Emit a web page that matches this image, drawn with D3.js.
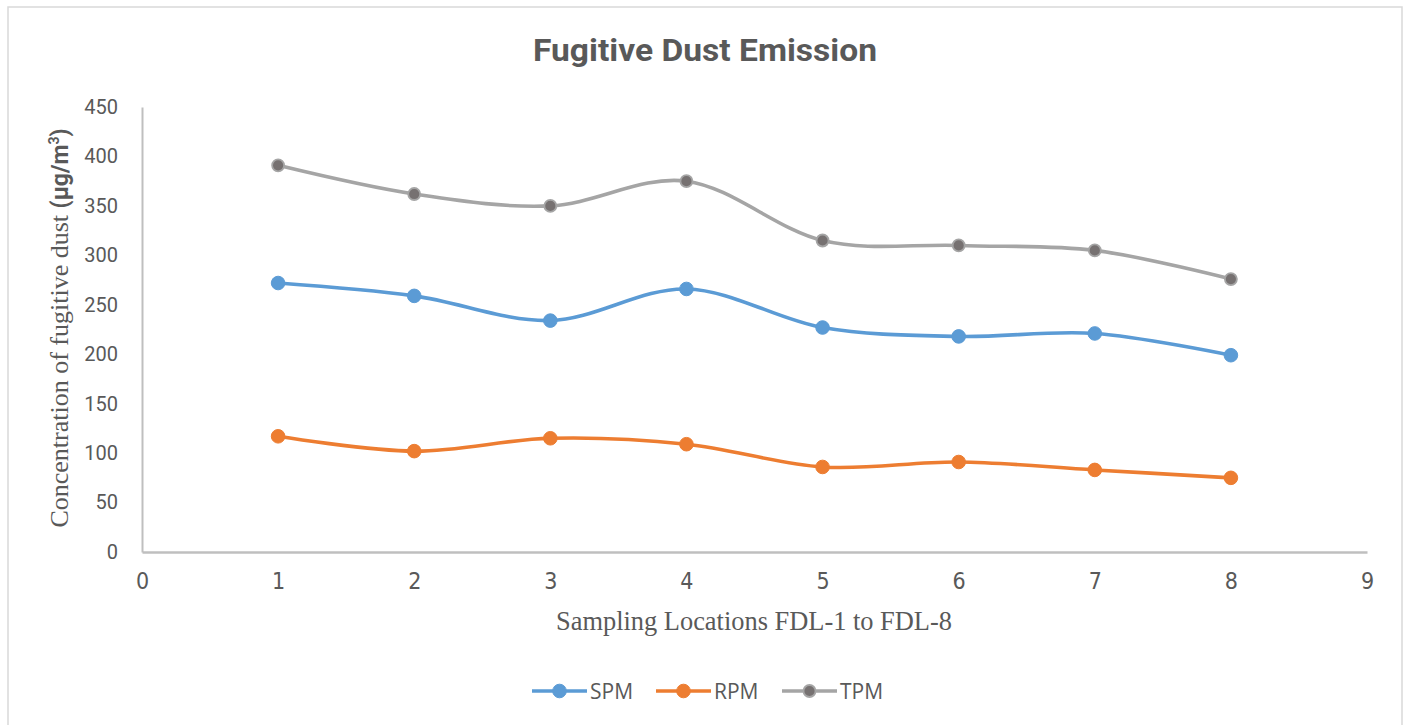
<!DOCTYPE html>
<html>
<head>
<meta charset="utf-8">
<script src="https://cdn.jsdelivr.net/npm/d3@7"></script>
<style>
body { margin: 0; background: #fff; }
</style>
</head>
<body>
<svg width="1406" height="725"></svg>
<script>
// sampling locations FDL-1 .. FDL-8
var locations = [1, 2, 3, 4, 5, 6, 7, 8];
var spm = [272, 259, 234, 266, 227, 218, 221, 199];
var rpm = [117, 102, 115, 109, 86, 91, 83, 75];
var tpm = [391, 362, 350, 375, 315, 310, 305, 276];
var seriesNames = ["SPM", "RPM", "TPM"];
var xTicks = [0, 1, 2, 3, 4, 5, 6, 7, 8, 9];
var yTicks = [0, 50, 100, 150, 200, 250, 300, 350, 400, 450];

var svg = d3.select("svg");
var margin = {top: 107, left: 142};
var width = 1367 - 142;
var height = 552 - 107;

// chart frame
svg.append("rect")
  .attr("x", 8).attr("y", 7)
  .attr("width", 1394).attr("height", 730)
  .attr("fill", "#fff")
  .attr("stroke", "#d9d9d9")
  .attr("stroke-width", 1.5);

var xScale = d3.scaleLinear().domain([0, 9]).range([0, width]);
var yScale = d3.scaleLinear().domain([0, 450]).range([height, 0]);

var g = svg.append("g").attr("transform", "translate(" + margin.left + "," + margin.top + ")");

var yAxis = d3.axisLeft(yScale).tickValues(yTicks).tickSize(0).tickPadding(24);
var xAxis = d3.axisBottom(xScale).tickValues(xTicks).tickSize(0).tickPadding(21);

var yg = g.append("g").call(yAxis);
yg.select(".domain").attr("stroke", "#bfbfbf").attr("stroke-width", 2);
yg.selectAll("text")
  .attr("font-family", "Roboto, sans-serif")
  .attr("font-size", "20px")
  .attr("fill", "#595959");

var xg = g.append("g").attr("transform", "translate(0," + height + ")").call(xAxis);
xg.select(".domain").attr("stroke", "#bfbfbf").attr("stroke-width", 2.5);
xg.selectAll("text")
  .attr("font-family", "'Liberation Sans Narrow', 'DejaVu Sans Condensed', sans-serif")
  .attr("font-size", "23px")
  .attr("fill", "#595959");

var colors = {SPM: "#5b9bd5", RPM: "#ed7d31", TPM: "#a5a5a5"};
var markerFill = {SPM: "#5b9bd5", RPM: "#ed7d31", TPM: "#767171"};
var values = {SPM: spm, RPM: rpm, TPM: tpm};

var line = d3.line()
  .x(function(d) { return xScale(d[0]); })
  .y(function(d) { return yScale(d[1]); })
  .curve(d3.curveCardinal.tension(0));

seriesNames.forEach(function(name) {
  var pts = locations.map(function(x, i) { return [x, values[name][i]]; });
  g.append("path")
    .datum(pts)
    .attr("d", line)
    .attr("fill", "none")
    .attr("stroke", colors[name])
    .attr("stroke-width", 3.6);
  g.selectAll(".m" + name)
    .data(pts)
    .enter()
    .append("circle")
    .attr("cx", function(d) { return xScale(d[0]); })
    .attr("cy", function(d) { return yScale(d[1]); })
    .attr("r", name == "TPM" ? 6 : 6.8)
    .attr("fill", markerFill[name])
    .attr("stroke", colors[name])
    .attr("stroke-width", name == "TPM" ? 1.8 : 1);
});

// title
svg.append("text")
  .attr("x", 705).attr("y", 61)
  .attr("text-anchor", "middle")
  .attr("font-family", "'Liberation Sans Narrow', Roboto, sans-serif")
  .attr("font-weight", "bold")
  .attr("font-size", "32px")
  .attr("fill", "#595959")
  .attr("textLength", 344)
  .attr("lengthAdjust", "spacingAndGlyphs")
  .text("Fugitive Dust Emission");

// x axis title
svg.append("text")
  .attr("x", 754).attr("y", 630)
  .attr("text-anchor", "middle")
  .attr("font-family", "'Liberation Serif', serif")
  .attr("font-size", "27px")
  .attr("fill", "#595959")
  .attr("textLength", 396)
  .attr("lengthAdjust", "spacingAndGlyphs")
  .text("Sampling Locations FDL-1 to FDL-8");

// y axis title
var yt = svg.append("text")
  .attr("transform", "translate(68,328) rotate(-90)")
  .attr("text-anchor", "middle")
  .attr("fill", "#595959");
yt.append("tspan")
  .attr("font-family", "'Liberation Serif', serif")
  .attr("font-size", "26px")
  .text("Concentration of fugitive dust ");
yt.append("tspan")
  .attr("font-family", "Roboto, sans-serif")
  .attr("font-weight", "bold")
  .attr("font-size", "23px")
  .text("(µg/m");
yt.append("tspan")
  .attr("font-family", "Roboto, sans-serif")
  .attr("font-weight", "bold")
  .attr("font-size", "14px")
  .attr("dy", -9)
  .text("3");
yt.append("tspan")
  .attr("font-family", "Roboto, sans-serif")
  .attr("font-weight", "bold")
  .attr("font-size", "23px")
  .attr("dy", 9)
  .text(")");

// legend
var legendX = [532, 656, 782];
var legend = svg.append("g");
seriesNames.forEach(function(name, i) {
  var lx = legendX[i];
  legend.append("line")
    .attr("x1", lx).attr("x2", lx + 55)
    .attr("y1", 691).attr("y2", 691)
    .attr("stroke", colors[name])
    .attr("stroke-width", 3.6);
  legend.append("circle")
    .attr("cx", lx + 27.5).attr("cy", 691)
    .attr("r", name == "TPM" ? 6 : 6.8)
    .attr("fill", markerFill[name])
    .attr("stroke", colors[name])
    .attr("stroke-width", name == "TPM" ? 1.8 : 1);
  legend.append("text")
    .attr("x", lx + 58).attr("y", 699)
    .attr("font-family", "'Open Sans', sans-serif")
    .attr("font-size", "21px")
    .attr("fill", "#595959")
    .text(name);
});
</script>
</body>
</html>
